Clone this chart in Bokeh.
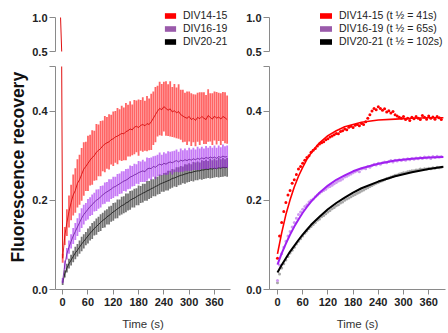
from bokeh.plotting import figure
from bokeh.layouts import row, column
from bokeh.models import Legend, LegendItem, Title, FixedTicker, Range1d, PrintfTickFormatter
from bokeh.embed import file_html
from bokeh.resources import INLINE

# ---------------- data ----------------
time_s = [0, 5, 10, 15, 20, 25, 30, 35, 40, 45,
          50, 55, 60, 65, 70, 75, 80, 85, 90, 95,
          100, 105, 110, 115, 120, 125, 130, 135, 140, 145,
          150, 155, 160, 165, 170, 175, 180, 185, 190, 195,
          200, 205, 210, 215, 220, 225, 230, 235, 240, 245,
          250, 255, 260, 265, 270, 275, 280, 285, 290, 295,
          300, 305, 310, 315, 320, 325, 330, 335, 340, 345,
          350, 355, 360, 365, 370, 375, 380, 385, 390]

div14_mean = [0.070, 0.120, 0.150, 0.175, 0.195, 0.212, 0.222, 0.238, 0.246, 0.258,
              0.270, 0.276, 0.283, 0.290, 0.296, 0.300, 0.308, 0.312, 0.316, 0.322,
              0.326, 0.329, 0.331, 0.336, 0.338, 0.342, 0.344, 0.347, 0.350, 0.349,
              0.354, 0.356, 0.360, 0.358, 0.364, 0.366, 0.363, 0.368, 0.370, 0.367,
              0.372, 0.370, 0.376, 0.384, 0.392, 0.400, 0.406, 0.403, 0.410, 0.406,
              0.402, 0.405, 0.398, 0.401, 0.396, 0.399, 0.392, 0.389, 0.386, 0.384,
              0.388, 0.381, 0.384, 0.379, 0.386, 0.383, 0.388, 0.384, 0.381, 0.390,
              0.386, 0.382, 0.389, 0.384, 0.387, 0.382, 0.388, 0.385, 0.381]
div14_sem = [0.010, 0.020, 0.030, 0.036, 0.040, 0.046, 0.050, 0.054, 0.056, 0.059,
             0.060, 0.055, 0.062, 0.057, 0.061, 0.056, 0.063, 0.058, 0.062, 0.057,
             0.063, 0.058, 0.062, 0.056, 0.061, 0.058, 0.063, 0.057, 0.062, 0.059,
             0.064, 0.058, 0.062, 0.057, 0.061, 0.058, 0.063, 0.057, 0.061, 0.056,
             0.062, 0.058, 0.063, 0.060, 0.062, 0.057, 0.060, 0.058, 0.056, 0.061,
             0.058, 0.062, 0.056, 0.060, 0.057, 0.061, 0.056, 0.059, 0.055, 0.060,
             0.056, 0.059, 0.054, 0.058, 0.055, 0.059, 0.054, 0.058, 0.055, 0.059,
             0.054, 0.058, 0.055, 0.059, 0.054, 0.058, 0.055, 0.057, 0.054]

div16_mean = [0.020, 0.055, 0.080, 0.095, 0.108, 0.120, 0.130, 0.140, 0.150, 0.160,
              0.168, 0.174, 0.180, 0.186, 0.190, 0.196, 0.200, 0.203, 0.208, 0.212,
              0.216, 0.219, 0.222, 0.225, 0.229, 0.231, 0.234, 0.237, 0.240, 0.243,
              0.245, 0.248, 0.252, 0.254, 0.257, 0.259, 0.262, 0.264, 0.266, 0.264,
              0.270, 0.272, 0.271, 0.276, 0.274, 0.278, 0.281, 0.279, 0.283, 0.281,
              0.284, 0.286, 0.284, 0.287, 0.289, 0.286, 0.290, 0.288, 0.291, 0.289,
              0.292, 0.290, 0.293, 0.291, 0.294, 0.292, 0.295, 0.293, 0.296, 0.294,
              0.297, 0.295, 0.297, 0.294, 0.298, 0.296, 0.299, 0.297, 0.298]
div16_sem = [0.006, 0.010, 0.013, 0.015, 0.016, 0.018, 0.019, 0.020, 0.021, 0.022,
             0.022, 0.020, 0.023, 0.021, 0.023, 0.021, 0.024, 0.022, 0.024, 0.021,
             0.024, 0.022, 0.025, 0.022, 0.024, 0.022, 0.025, 0.023, 0.025, 0.022,
             0.025, 0.023, 0.026, 0.023, 0.025, 0.022, 0.026, 0.023, 0.025, 0.023,
             0.026, 0.023, 0.025, 0.023, 0.026, 0.024, 0.026, 0.023, 0.025, 0.024,
             0.026, 0.023, 0.026, 0.024, 0.025, 0.023, 0.026, 0.024, 0.025, 0.023,
             0.026, 0.024, 0.025, 0.023, 0.026, 0.024, 0.025, 0.023, 0.026, 0.024,
             0.025, 0.023, 0.026, 0.024, 0.025, 0.023, 0.026, 0.024, 0.025]

div20_mean = [0.015, 0.035, 0.048, 0.058, 0.066, 0.074, 0.082, 0.088, 0.095, 0.102,
              0.108, 0.114, 0.120, 0.126, 0.131, 0.137, 0.141, 0.146, 0.150, 0.155,
              0.158, 0.163, 0.166, 0.170, 0.174, 0.177, 0.181, 0.184, 0.188, 0.190,
              0.194, 0.196, 0.200, 0.203, 0.205, 0.208, 0.211, 0.213, 0.216, 0.218,
              0.221, 0.223, 0.226, 0.228, 0.231, 0.233, 0.236, 0.238, 0.240, 0.242,
              0.244, 0.246, 0.249, 0.250, 0.252, 0.254, 0.256, 0.257, 0.259, 0.260,
              0.262, 0.262, 0.264, 0.265, 0.266, 0.266, 0.268, 0.268, 0.270, 0.269,
              0.271, 0.270, 0.272, 0.271, 0.273, 0.272, 0.274, 0.273, 0.274]
div20_sem = [0.005, 0.008, 0.010, 0.011, 0.012, 0.013, 0.014, 0.014, 0.015, 0.016,
             0.016, 0.015, 0.017, 0.016, 0.018, 0.016, 0.018, 0.017, 0.019, 0.017,
             0.019, 0.017, 0.020, 0.018, 0.020, 0.018, 0.021, 0.018, 0.020, 0.019,
             0.021, 0.019, 0.021, 0.019, 0.021, 0.019, 0.022, 0.019, 0.021, 0.019,
             0.022, 0.020, 0.021, 0.019, 0.022, 0.020, 0.022, 0.019, 0.021, 0.020,
             0.022, 0.020, 0.021, 0.019, 0.022, 0.020, 0.021, 0.019, 0.022, 0.020,
             0.021, 0.019, 0.022, 0.020, 0.021, 0.019, 0.022, 0.020, 0.021, 0.019,
             0.022, 0.020, 0.021, 0.019, 0.022, 0.020, 0.021, 0.019, 0.021]

# pre-bleach point (normalised to 1.0), DIV14-15 trace
prebleach_time = -5
prebleach_value = 1.0

# single-exponential fits
fit_time = [0, 10, 20, 30, 40, 50, 60, 70, 80, 90, 100, 120, 140, 160, 180, 200, 240, 280, 320, 360, 395]
div14_fit = [0.080, 0.127, 0.168, 0.201, 0.230, 0.254, 0.274, 0.292, 0.306, 0.318, 0.329,
             0.345, 0.356, 0.365, 0.370, 0.375, 0.380, 0.382, 0.384, 0.385, 0.385]
div16_fit = [0.056, 0.081, 0.103, 0.123, 0.141, 0.157, 0.172, 0.185, 0.197, 0.207, 0.217,
             0.233, 0.246, 0.256, 0.265, 0.272, 0.282, 0.289, 0.293, 0.296, 0.297]
div20_fit = [0.038, 0.055, 0.070, 0.085, 0.098, 0.111, 0.123, 0.134, 0.145, 0.154, 0.163,
             0.180, 0.194, 0.206, 0.217, 0.227, 0.242, 0.254, 0.263, 0.270, 0.275]

labels_left = ["DIV14-15", "DIV16-19", "DIV20-21"]
labels_right = ["DIV14-15 (t \u00bd = 41s)", "DIV16-19 (t \u00bd = 65s)", "DIV20-21 (t \u00bd = 102s)"]
legend_colors = ["#ff0000", "#9a5aaa", "#000000"]
x_ticks = [0, 60, 120, 180, 240, 300, 360]

FONT = "Liberation Sans"
AX = "#8a8a8a"
TXT = "#222222"
NAN = float("nan")


def style_axis(ax):
    ax.axis_line_color = AX
    ax.major_tick_line_color = AX
    ax.minor_tick_line_color = None
    ax.major_tick_in = 0
    ax.major_tick_out = 6
    ax.major_label_text_font = FONT
    ax.major_label_text_font_style = "bold"
    ax.major_label_text_font_size = "11px"
    ax.major_label_text_color = TXT


def make_pair(xr, b_left, b_right, fw):
    # upper segment of the broken y axis: 0.5 .. 1.0 (34 px per 0.5)
    up = figure(frame_width=fw, frame_height=43, x_range=xr,
                y_range=Range1d(0.5, 0.5 + 43 * 0.5 / 34),
                min_border_left=b_left, min_border_right=b_right, min_border_top=8,
                min_border_bottom=8, x_axis_location=None, output_backend="svg",
                toolbar_location=None)
    lo = figure(frame_width=fw, frame_height=223, x_range=xr, y_range=Range1d(0, 0.5),
                min_border_left=b_left, min_border_right=b_right, min_border_top=7,
                min_border_bottom=44, output_backend="svg", toolbar_location=None)
    for f in (up, lo):
        f.outline_line_color = None
        f.grid.visible = False
        f.background_fill_color = "white"
        f.border_fill_color = "white"
        style_axis(f.yaxis[0])
        f.yaxis[0].major_label_standoff = 2
        f.yaxis[0].formatter = PrintfTickFormatter(format="%.1f")
    up.yaxis[0].ticker = FixedTicker(ticks=[0.5, 1.0])
    up.yaxis[0].bounds = (0.5, 1.0)
    lo.yaxis[0].ticker = FixedTicker(ticks=[0.0, 0.2, 0.4, 0.5])
    lo.yaxis[0].major_label_overrides = {0.5: ""}
    lo.yaxis[0].bounds = (0.0, 0.5)
    xa = lo.xaxis[0]
    style_axis(xa)
    xa.ticker = FixedTicker(ticks=x_ticks)
    xa.major_tick_out = 5
    xa.major_label_standoff = 3
    xa.axis_label = "Time (s)"
    xa.axis_label_text_font = FONT
    xa.axis_label_text_font_style = "normal"
    xa.axis_label_text_font_size = "11.5px"
    xa.axis_label_text_color = "#333333"
    xa.axis_label_standoff = 9
    return up, lo


def add_legend(f, labels, colors, loc, gw):
    items = []
    for lab, c in zip(labels, colors):
        r = f.quad(left=[NAN], right=[NAN], top=[NAN], bottom=[NAN], fill_color=c, line_color=None)
        items.append(LegendItem(label=lab, renderers=[r]))
    lg = Legend(items=items, location=loc, padding=0, margin=0, spacing=1,
                glyph_width=gw, glyph_height=7, label_height=11, label_standoff=6,
                label_text_font=FONT, label_text_font_size="10.5px", label_text_color=TXT,
                border_line_color=None, background_fill_alpha=0)
    f.add_layout(lg)


# ---------------- left panel ----------------
xr_left = Range1d(-17, 398)
up_l, lo_l = make_pair(xr_left, 55, 7, 175)

series = [
    (div20_mean, div20_sem, "#000000", 0.55, "#111111"),
    (div16_mean, div16_sem, "#a020f0", 0.6, "#6a1a9a"),
    (div14_mean, div14_sem, "#ff1a1a", 0.68, "#d00000"),
]
for mean, sem, col, alpha, lcol in series:
    lo_l.segment(x0=time_s, x1=time_s,
                 y0=[m - s for m, s in zip(mean, sem)],
                 y1=[m + s for m, s in zip(mean, sem)],
                 line_color=col, line_alpha=alpha, line_width=1.8)
    lo_l.line(time_s, mean, line_color=lcol, line_width=0.8)

# pre-bleach -> first post-bleach point (red trace, crosses the axis break)
for f in (up_l, lo_l):
    f.line([prebleach_time, time_s[0]], [prebleach_value, div14_mean[0]],
           line_color="#e01010", line_width=1)

add_legend(up_l, labels_left, legend_colors, (108, 4), 14)

lo_l.add_layout(Title(text="Fluorescence recovery", align="left", offset=27, standoff=4,
                      text_font=FONT, text_font_style="bold", text_font_size="17.5px",
                      text_color="#111111"), "left")

# ---------------- right panel ----------------
xr_right = Range1d(-19, 400)
up_r, lo_r = make_pair(xr_right, 32, 3, 176)

lo_r.scatter(time_s, div20_mean, size=3, color="#a8a8a8", line_color=None)
lo_r.scatter(time_s, div16_mean, size=3, color="#cf9af0", line_color=None)
lo_r.scatter(time_s, div14_mean, size=3, color="#ff0000", line_color=None)
lo_r.line(fit_time, div20_fit, line_color="#000000", line_width=2)
lo_r.line(fit_time, div16_fit, line_color="#a020f0", line_width=2)
lo_r.line(fit_time, div14_fit, line_color="#ff0000", line_width=1.6)

add_legend(up_r, labels_right, legend_colors, (49, 4), 15)

layout = row(column(up_l, lo_l), column(up_r, lo_r))

open("out.html", "w").write(file_html(layout, INLINE))
